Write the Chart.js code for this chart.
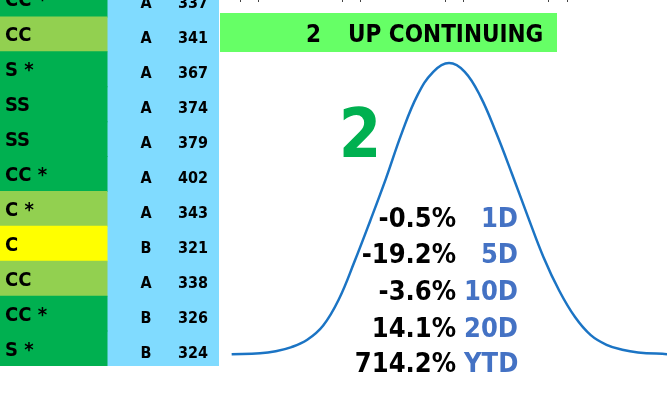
<!DOCTYPE html>
<html><head><meta charset="utf-8">
<script src="https://cdn.jsdelivr.net/npm/chart.js@4.4.1/dist/chart.umd.min.js"></script>
<style>
html,body{margin:0;padding:0;background:#fff;overflow:hidden;width:667px;height:401px;position:relative}
canvas{position:absolute;display:block}
#crv{left:0;top:0;z-index:1}
#tbl{left:0;top:-18px;z-index:2}
</style></head><body>
<canvas id="crv" width="667" height="401"></canvas>
<canvas id="tbl" width="219" height="384"></canvas>
<script>
// ---- data ----
const rowLabels = ["CC *","CC","S *","SS","SS","CC *","C *","C","CC","CC *","S *"];
const grades    = ["A","A","A","A","A","A","A","B","A","B","B"];
const scores    = [337,341,367,374,379,402,343,321,338,326,324];
const trendLevel = 2;
const trendText  = "UP CONTINUING";
const periods = ["1D","5D","10D","20D","YTD"];
const returns = [-0.5,-19.2,-3.6,14.1,714.2];
// bell curve (position in std units, height relative to peak)
const curveZ       = [-3.45,-3.0,-2.75,-2.5,-2.25,-2.0,-1.75,-1.5,-1.25,-1.0,-0.75,-0.5,-0.25,0,0.25,0.5,0.75,1.0,1.25,1.5,1.75,2.0,2.25,2.5,2.75,3.0,3.46];
const curveDensity = [0.003,0.006,0.013,0.027,0.052,0.100,0.19,0.32,0.46,0.605,0.76,0.89,0.97,1.0,0.97,0.885,0.76,0.62,0.475,0.335,0.22,0.13,0.068,0.035,0.018,0.009,0.003];

// ---- styles ----
const FONT = "'DejaVu Sans Condensed','DejaVu Sans',sans-serif";
const labelColors = {"CC *":"#00b050","S *":"#00b050","SS":"#00b050","CC":"#92d050","C *":"#92d050","C":"#ffff00"};
const GRADE_BG = "#80dbff";
const COL1 = [0,107], COL2 = [107,219];

// ---- table chart ----
const tablePlugin = {
  id:'tableText',
  afterDatasetsDraw(chart){
    const ctx = chart.ctx, ys = chart.scales.y;
    ctx.save();
    ctx.fillStyle = '#000';
    rowLabels.forEach((lab,i)=>{
      const y = ys.getPixelForValue(i);
      ctx.font = "bold 20px "+FONT;
      ctx.textAlign='left'; ctx.textBaseline='alphabetic';
      ctx.fillText(lab,5,y+7);
      ctx.font = "bold 16px "+FONT;
      ctx.textAlign='center';
      ctx.fillText(grades[i],146,y+9);
      ctx.textAlign='right';
      ctx.fillText(String(scores[i]),208,y+9);
    });
    ctx.restore();
  }
};
new Chart(document.getElementById('tbl'),{
  type:'bar',
  data:{
    labels: rowLabels.map((l,i)=>i),
    datasets:[
      {data: rowLabels.map(()=>COL1), backgroundColor: rowLabels.map(l=>labelColors[l]), borderWidth:0, inflateAmount:0.5, barPercentage:1, categoryPercentage:1, grouped:false},
      {data: rowLabels.map(()=>COL2), backgroundColor: GRADE_BG, borderWidth:0, inflateAmount:0.5, barPercentage:1, categoryPercentage:1, grouped:false}
    ]
  },
  options:{
    indexAxis:'y', responsive:false, animation:false, events:[],
    layout:{padding:0},
    plugins:{legend:{display:false},tooltip:{enabled:false}},
    scales:{
      x:{type:'linear',min:0,max:219,display:false},
      y:{type:'category',display:false,offset:true}
    }
  },
  plugins:[tablePlugin]
});

// ---- curve chart ----
const curvePlugin = {
  id:'curveText',
  beforeDatasetsDraw(chart){
    const ctx = chart.ctx;
    ctx.save();
    ctx.fillStyle = '#444';
    [240,258,342,360,445,463,548,567].forEach(x=>ctx.fillRect(x,0,1,2));
    ctx.fillStyle = '#66ff66';
    ctx.fillRect(220,13,337,39);
    ctx.fillStyle = '#000';
    ctx.font = "bold 24px "+FONT;
    ctx.textBaseline='alphabetic'; ctx.textAlign='left';
    ctx.fillText(String(trendLevel),306,42);
    ctx.fillText(trendText,348,42);
    ctx.restore();
  },
  afterDatasetsDraw(chart){
    const ctx = chart.ctx;
    ctx.save();
    ctx.textBaseline='alphabetic';
    ctx.fillStyle = '#00b050';
    ctx.font = "bold 68px "+FONT;
    ctx.textAlign='center';
    ctx.fillText(String(trendLevel),360,157);
    ctx.font = "bold 27px "+FONT;
    const base = [227,263,300,337,372];
    returns.forEach((v,i)=>{
      ctx.fillStyle='#000'; ctx.textAlign='right';
      ctx.fillText(v.toFixed(1)+'%',456,base[i]);
      ctx.fillStyle='#4472c4'; ctx.textAlign='left';
      const pad = periods[i].length<3 ? '\u2007' : '';
      ctx.fillText(pad+periods[i],464,base[i]);
    });
    ctx.restore();
  }
};
new Chart(document.getElementById('crv'),{
  type:'scatter',
  data:{datasets:[{
    data: curveZ.map((z,i)=>({x:z,y:curveDensity[i]})),
    showLine:true, borderColor:'#1b74c4', borderWidth:2.5, pointRadius:0,
    tension:0.4, fill:false
  }]},
  options:{
    responsive:false, animation:false, events:[],
    layout:{padding:0},
    plugins:{legend:{display:false},tooltip:{enabled:false}},
    scales:{
      x:{type:'linear',min:-7.127,max:3.46,display:false},
      y:{type:'linear',min:-0.1575,max:1.2158,display:false}
    }
  },
  plugins:[curvePlugin]
});
</script>
</body></html>
